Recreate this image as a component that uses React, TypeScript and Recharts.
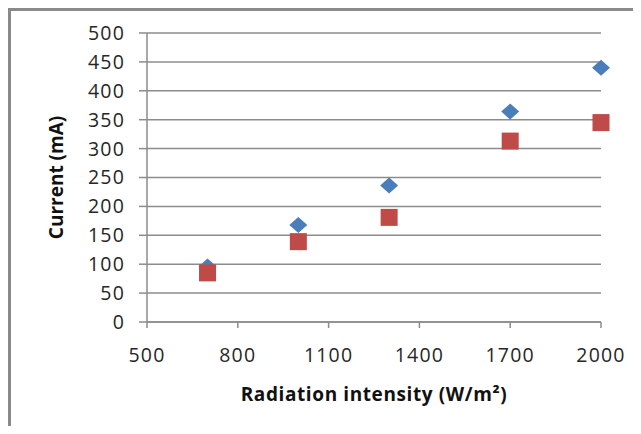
import React from "react";
import {
  ScatterChart,
  Scatter,
  XAxis,
  YAxis,
  CartesianGrid,
} from "recharts";

// Radiation intensity (W/m²) and measured current (mA)
const intensity = [700, 1000, 1300, 1700, 2000];
const currentA = [96, 168, 236, 364, 440];
const currentB = [85, 139, 181, 313, 345];

const xTicks = [500, 800, 1100, 1400, 1700, 2000];
const yTicks = [0, 50, 100, 150, 200, 250, 300, 350, 400, 450, 500];

const seriesA = intensity.map((x, i) => ({ x, y: currentA[i] }));
const seriesB = intensity.map((x, i) => ({ x, y: currentB[i] }));

const BLUE = "#4a7ebb";
const RED = "#be4b48";
const GRID = "#8c8c8c";
const FONT = "'Open Sans', sans-serif";

const Diamond = (props: any) => {
  const { cx, cy } = props;
  const w = 9;
  const h = 8;
  return (
    <path
      d={`M${cx},${cy - h} L${cx + w},${cy} L${cx},${cy + h} L${cx - w},${cy} Z`}
      fill={BLUE}
    />
  );
};

const Square = (props: any) => {
  const { cx, cy } = props;
  const s = 8.5;
  return <rect x={cx - s} y={cy - s} width={s * 2} height={s * 2} fill={RED} />;
};

const tickStyle = {
  fill: "#262626",
  fontSize: 19.5,
  fontFamily: FONT,
  letterSpacing: 1.2,
};

const titleStyle = {
  fill: "#111",
  fontSize: 19,
  fontWeight: 700,
  fontFamily: FONT,
};

const App = () => {
  return (
    <div
      style={{
        margin: -8,
        width: 641,
        height: 434,
        position: "relative",
        overflow: "hidden",
        background: "#fff",
      }}
    >
      <div
        style={{
          position: "absolute",
          left: 8,
          top: 8,
          width: 700,
          height: 500,
          border: "3px solid #8a8a8a",
        }}
      />
      <div style={{ position: "absolute", left: 0, top: 0 }}>
        <ScatterChart
          width={641}
          height={434}
          margin={{ top: 33, right: 40, left: 0, bottom: 0 }}
        >
          <CartesianGrid
            vertical={false}
            stroke={GRID}
            strokeWidth={1.5}
          />
          <XAxis
            type="number"
            dataKey="x"
            domain={[500, 2000]}
            ticks={xTicks}
            interval={0}
            height={112}
            stroke={GRID}
            strokeWidth={1.5}
            tickSize={6}
            tickMargin={20}
            tick={tickStyle}
            label={{
              value: "Radiation intensity (W/m²)",
              position: "insideTop",
              offset: 66,
              style: { ...titleStyle, letterSpacing: 0.6 },
            }}
          />
          <YAxis
            type="number"
            dataKey="y"
            domain={[0, 500]}
            ticks={yTicks}
            interval={0}
            width={147}
            stroke={GRID}
            strokeWidth={1.5}
            tickSize={8}
            tickMargin={14}
            tick={tickStyle}
            label={{
              value: "Current (mA)",
              angle: -90,
              position: "insideLeft",
              offset: 56,
              style: { ...titleStyle, textAnchor: "middle" },
            }}
          />
          <Scatter
            data={seriesA}
            shape={<Diamond />}
            isAnimationActive={false}
          />
          <Scatter
            data={seriesB}
            shape={<Square />}
            isAnimationActive={false}
          />
        </ScatterChart>
      </div>
    </div>
  );
};

export default App;
